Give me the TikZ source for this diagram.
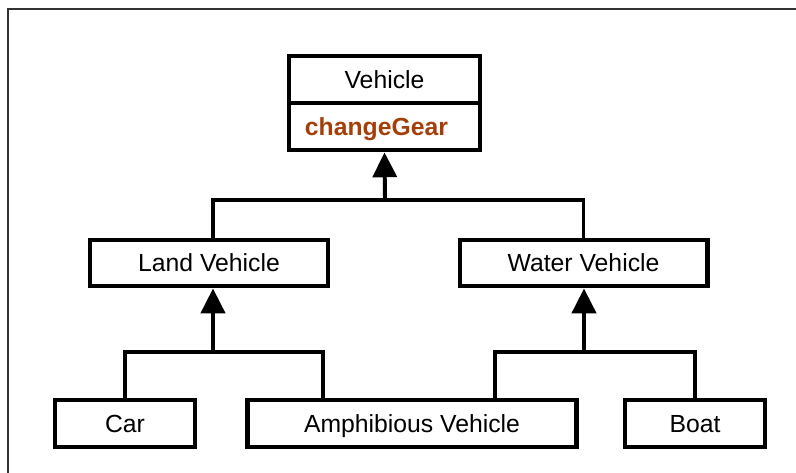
\documentclass[tikz,border=0pt]{standalone}
\usepackage{fontspec}
\setmainfont{Liberation Sans}
\usetikzlibrary{arrows.meta}
\definecolor{gearbrown}{RGB}{163,63,8}
\tikzset{
  cls/.style={draw, line width=3.5pt, inner sep=0pt, minimum height=1.175cm,
    text height=12.6pt, text depth=0pt, font=\fontsize{17.6}{20}\selectfont},
  link/.style={line width=2.8pt},
  inherit/.style={link, -{Triangle[length=0.62cm,width=0.6cm]}},
  frame/.style={line width=1.4pt, black!80}
}
\begin{document}
\begin{tikzpicture}[x=0.025cm,y=-0.025cm]
    \useasboundingbox (0,0) rectangle (796,473);
    \draw[frame] (796,9) -- (8,9) -- (8,473);

    \node[cls, minimum width=4.775cm] (vehicle) at (384.5,79.5) {Vehicle};
    \node[cls, minimum width=4.775cm, inner xsep=0.4cm, text width=3.975cm, align=left,
      text=gearbrown, font=\fontsize{17.6}{20}\selectfont\bfseries] (gear) at (384.5,126.5) {changeGear};
    \node[cls, minimum width=5.95cm, minimum height=1.15cm] (land) at (209,263) {Land Vehicle};
    \node[cls, minimum width=6.175cm, minimum height=1.15cm] (water) at (583.5,263) {Water Vehicle};
    \node[cls, minimum width=3.5cm] (car) at (125,423.5) {Car};
    \node[cls, minimum width=8.2cm] (amph) at (412,423.5) {Amphibious Vehicle};
    \node[cls, minimum width=3.5cm] (boat) at (695,423.5) {Boat};

    \coordinate (vbar) at (385,200);
    \coordinate (lbar) at (213,352);
    \coordinate (lend) at (323,352);
    \coordinate (wbar) at (584,352);
    \coordinate (wend) at (495,352);

    \draw[link] (land.north -| lbar) |- (vbar) -| (water.north);
    \draw[inherit] (vbar) -- (gear.south);
    \draw[link] (car.north) |- (lend) -- (amph.north -| lend);
    \draw[inherit] (lbar) -- (land.south -| lbar);
    \draw[link] (amph.north -| wend) -- (wend) -| (boat.north);
    \draw[inherit] (wbar) -- (water.south -| wbar);
\end{tikzpicture}
\end{document}
